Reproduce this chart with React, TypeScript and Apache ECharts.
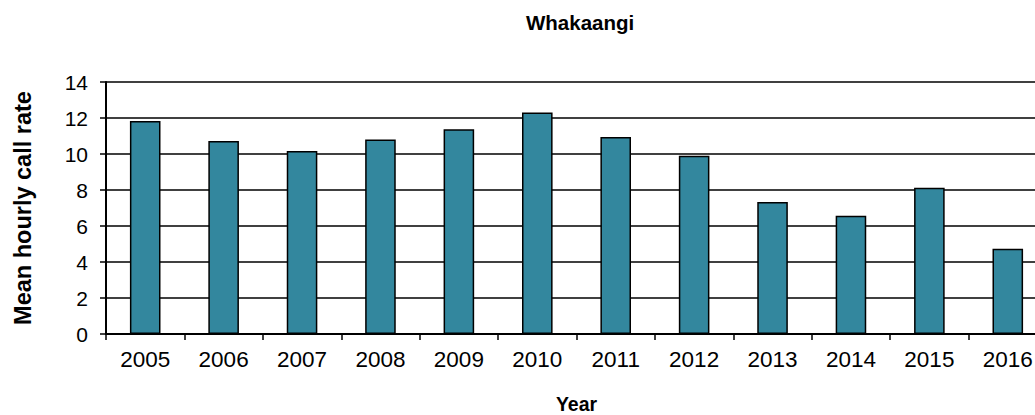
import React, { useEffect, useRef } from "react";
import * as echarts from "echarts";

const years = ["2005", "2006", "2007", "2008", "2009", "2010", "2011", "2012", "2013", "2014", "2015", "2016"];
const callRate = [11.83, 10.72, 10.17, 10.8, 11.37, 12.3, 10.94, 9.9, 7.33, 6.57, 8.13, 4.74];
const yTicks = { min: 0, max: 14, interval: 2 };
const titleText = "Whakaangi";
const xName = "Year";
const yName = "Mean hourly call rate";

export default function App() {
  const ref = useRef<HTMLDivElement>(null);
  useEffect(() => {
    if (!ref.current) return;
    const chart = echarts.init(ref.current, null, { renderer: "svg" });
    const font = "'Liberation Sans', Arial, sans-serif";
    chart.setOption({
      animation: false,
      backgroundColor: "#ffffff",
      title: {
        text: titleText,
        left: 526,
        top: 12,
        padding: 0,
        textStyle: { fontFamily: font, fontSize: 20.5, fontWeight: "bold", color: "#000" },
      },
      grid: { left: 106, right: -12, top: 82, bottom: 81, containLabel: false, outerBoundsMode: "none" },
      xAxis: {
        type: "category",
        data: years,
        name: xName,
        nameLocation: "middle",
        nameGap: 60,
        nameTextStyle: { fontFamily: font, fontSize: 19.5, fontWeight: "bold", color: "#000" },
        axisLine: { lineStyle: { color: "#000", width: 2 } },
        axisTick: { show: true, length: 6, lineStyle: { color: "#000", width: 1.5 }, alignWithLabel: false },
        axisLabel: { interval: 0, margin: 14, fontFamily: font, fontSize: 22.5, color: "#000" },
        splitLine: { show: false },
      },
      yAxis: {
        type: "value",
        min: yTicks.min,
        max: yTicks.max,
        interval: yTicks.interval,
        name: yName,
        nameLocation: "middle",
        nameGap: 71,
        nameRotate: 90,
        nameTextStyle: { fontFamily: font, fontSize: 23.5, fontWeight: "bold", color: "#000" },
        axisLine: { show: true, lineStyle: { color: "#000", width: 2 } },
        axisTick: { show: true, length: 6, lineStyle: { color: "#000", width: 1.5 } },
        axisLabel: { margin: 18, fontFamily: font, fontSize: 21, color: "#000" },
        splitLine: { show: true, lineStyle: { color: "#000", width: 1.5 } },
      },
      series: [
        {
          type: "bar",
          data: callRate,
          barWidth: "39%",
          itemStyle: { color: "#33879E", borderColor: "#000", borderWidth: 1.5 },
        },
      ],
    });
    return () => chart.dispose();
  }, []);
  return (
    <div
      ref={ref}
      style={{ position: "fixed", left: 0, top: 0, width: 1035, height: 415, background: "#fff" }}
    />
  );
}
